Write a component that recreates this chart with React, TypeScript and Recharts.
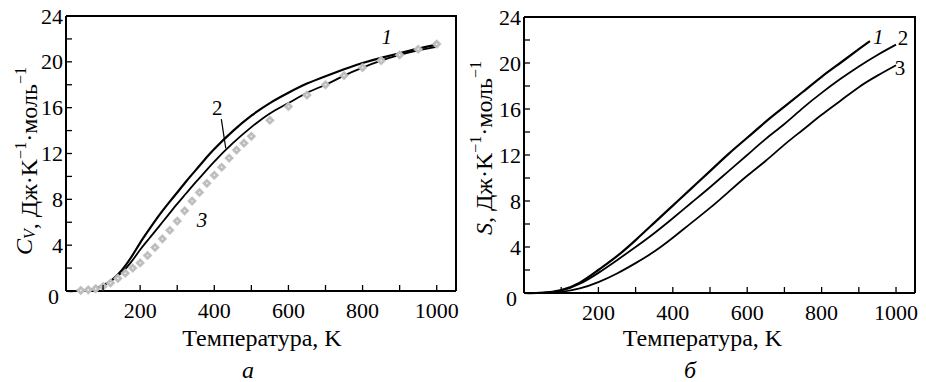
import React from 'react';
import { ComposedChart, Line, Scatter, XAxis, YAxis, ReferenceDot, ReferenceLine } from 'recharts';

// panel a: heat capacity
const cvTemps = [0, 25, 50, 75, 100, 125, 150, 175, 200, 225, 250, 275, 300, 325, 350, 375, 400, 450, 500, 550, 600, 650, 700, 750, 800, 850, 900, 950, 1000];
const cvCurve1 = [0, 0, 0.05, 0.2, 0.5, 1.0, 1.8, 2.9, 4.2, 5.4, 6.55, 7.6, 8.6, 9.6, 10.55, 11.5, 12.4, 13.95, 15.3, 16.4, 17.3, 18.1, 18.75, 19.35, 19.9, 20.35, 20.75, 21.15, 21.5];
const cvCurve2 = [0, 0, 0.05, 0.2, 0.5, 0.95, 1.6, 2.5, 3.6, 4.6, 5.6, 6.6, 7.6, 8.55, 9.5, 10.4, 11.3, 12.9, 14.3, 15.5, 16.4, 17.3, 18.0, 18.8, 19.5, 20.1, 20.6, 21.0, 21.3];
const cvPointTemps = [40, 60, 80, 100, 120, 140, 160, 180, 200, 220, 240, 260, 280, 300, 320, 340, 360, 380, 400, 420, 440, 460, 480, 500, 550, 600, 650, 700, 750, 800, 850, 900, 950, 1000];
const cvPoints3 = [0.05, 0.1, 0.2, 0.4, 0.7, 1.1, 1.55, 2.0, 2.45, 3.1, 3.8, 4.55, 5.3, 6.1, 7.0, 7.85, 8.6, 9.4, 10.1, 10.8, 11.6, 12.3, 12.9, 13.5, 14.9, 16.1, 17.1, 18.0, 18.8, 19.5, 20.1, 20.6, 21.1, 21.55];

// panel б: entropy
const sTemps = [0, 50, 100, 150, 200, 250, 300, 350, 400, 450, 500, 550, 600, 650, 700, 750, 800, 850, 900, 950, 1000];
const s1Temps = [0, 50, 100, 150, 200, 250, 300, 350, 400, 450, 500, 550, 600, 650, 700, 750, 800, 850, 900, 930];
const sCurve1 = [0, 0.02, 0.25, 0.9, 2.0, 3.2, 4.6, 6.1, 7.6, 9.1, 10.6, 12.1, 13.5, 14.9, 16.2, 17.5, 18.8, 20.0, 21.2, 21.9];
const sCurve2 = [0, 0.02, 0.2, 0.8, 1.75, 2.85, 4.0, 5.2, 6.5, 7.85, 9.2, 10.6, 12.0, 13.4, 14.7, 16.1, 17.4, 18.6, 19.7, 20.7, 21.6];
const sCurve3 = [0, 0, 0.1, 0.4, 0.95, 1.7, 2.6, 3.6, 4.8, 6.1, 7.4, 8.8, 10.2, 11.5, 12.9, 14.2, 15.5, 16.7, 17.9, 18.9, 19.8];

const xTicks = [100, 200, 300, 400, 500, 600, 700, 800, 900, 1000];
const yTicks = [0, 2, 4, 6, 8, 10, 12, 14, 16, 18, 20, 22, 24];

const zip = (xs: number[], ys: number[]) => xs.map((t, i) => ({ t, v: ys[i] }));

const FONT = '"Liberation Serif", "Times New Roman", serif';
const FS = 22;
const TITLE = 24;
const H = 382;
const X_AXIS_H = 30;

type Margin = { top: number; right: number; bottom: number; left: number };
type Layout = { width: number; margin: Margin; yAxisWidth: number; xMax: number };

const leftLayout: Layout = { width: 470, margin: { top: 16, right: 14, bottom: 61, left: 0 }, yAxisWidth: 66, xMax: 1052 };
const rightLayout: Layout = { width: 466, margin: { top: 17, right: 11, bottom: 59, left: 0 }, yAxisWidth: 64, xMax: 1051 };

const plotBox = (l: Layout) => {
  const x = l.margin.left + l.yAxisWidth;
  return {
    x,
    y: l.margin.top,
    w: l.width - x - l.margin.right,
    h: H - l.margin.top - l.margin.bottom - X_AXIS_H,
  };
};

const XTick = (p: any) => {
  const { x, y, payload } = p;
  const v = payload.value;
  return (
    <g>
      <line x1={x} x2={x} y1={y} y2={y - 6} stroke="#000" strokeWidth={1.3} />
      {v % 200 === 0 && (
        <text x={x} y={y + 19} textAnchor="middle" dominantBaseline="central" fontFamily={FONT} fontSize={FS} fill="#000">
          {v}
        </text>
      )}
    </g>
  );
};

const YTick = (p: any) => {
  const { x, y, payload } = p;
  const v = payload.value;
  return (
    <g>
      <line x1={x} x2={x + 6} y1={y} y2={y} stroke="#000" strokeWidth={1.3} />
      {v % 4 === 0 && (
        <text
          x={v === 0 ? x - 7 : x - 3}
          y={v === 0 ? y + 5 : y}
          textAnchor="end"
          dominantBaseline="central"
          fontFamily={FONT}
          fontSize={FS}
          fill="#000"
        >
          {v}
        </text>
      )}
    </g>
  );
};

const Diamond = (p: any) => {
  const { cx, cy } = p;
  const r = 4.6;
  return (
    <g>
      <polygon points={`${cx},${cy - r} ${cx + r},${cy} ${cx},${cy + r} ${cx - r},${cy}`} fill="#bdbdbd" stroke="#c8c8c8" strokeWidth={0.5} />
      <rect x={cx - 0.8} y={cy - 0.8} width={1.6} height={1.6} fill="#eeeeee" />
    </g>
  );
};

const tag = (text: string, italic: boolean) => (p: any) => (
  <text
    x={p.cx}
    y={p.cy}
    textAnchor="middle"
    dominantBaseline="central"
    fontFamily={FONT}
    fontSize={21}
    fontStyle={italic ? 'italic' : 'normal'}
    fill="#000"
  >
    {text}
  </text>
);

const yLabel = (symbol: React.ReactNode, cx: number, cy: number) => (
  <text
    transform={`translate(${cx},${cy}) rotate(-90)`}
    textAnchor="middle"
    dominantBaseline="central"
    fontFamily={FONT}
    fontSize={TITLE}
    fill="#000"
  >
    {symbol}
    <tspan>, Дж·K</tspan>
    <tspan fontSize={16} dy={-9}>−1</tspan>
    <tspan dy={9}>·моль</tspan>
    <tspan fontSize={16} dy={-9}>−1</tspan>
  </text>
);

const axisLine = { stroke: '#000', strokeWidth: 2 };

const Panel = ({ layout, children }: { layout: Layout; children: React.ReactNode }) => (
  <ComposedChart width={layout.width} height={H} margin={layout.margin}>
    <XAxis
      dataKey="t"
      type="number"
      domain={[0, layout.xMax]}
      ticks={xTicks}
      interval={0}
      tickSize={0}
      tickMargin={0}
      tick={<XTick />}
      axisLine={axisLine}
      allowDataOverflow
      height={X_AXIS_H}
    />
    <YAxis
      dataKey="v"
      type="number"
      domain={[0, 24]}
      ticks={yTicks}
      interval={0}
      tickSize={0}
      tickMargin={0}
      tick={<YTick />}
      axisLine={axisLine}
      width={layout.yAxisWidth}
    />
    {children}
  </ComposedChart>
);

// top and right edges of the plotting box
const Frame = ({ layout }: { layout: Layout }) => {
  const b = plotBox(layout);
  return (
    <g>
      <line x1={b.x} y1={b.y} x2={b.x + b.w + 1} y2={b.y} stroke="#000" strokeWidth={2} />
      <line x1={b.x + b.w} y1={b.y} x2={b.x + b.w} y2={b.y + b.h} stroke="#000" strokeWidth={2} />
    </g>
  );
};

export default function App() {
  const cv1 = zip(cvTemps, cvCurve1);
  const cv2 = zip(cvTemps, cvCurve2);
  const cv3 = zip(cvPointTemps, cvPoints3);
  const s1 = zip(s1Temps, sCurve1);
  const s2 = zip(sTemps, sCurve2);
  const s3 = zip(sTemps, sCurve3);

  return (
    <div style={{ position: 'absolute', left: 0, top: 0, width: 926, height: H, background: '#fff', fontFamily: FONT }}>
      <div style={{ position: 'absolute', left: 0, top: 0, width: 470, height: H }}>
        <Panel layout={leftLayout}>
          <Line data={cv1} dataKey="v" type="natural" stroke="#000" strokeWidth={2.2} dot={false} isAnimationActive={false} />
          <Line data={cv2} dataKey="v" type="natural" stroke="#000" strokeWidth={1.8} dot={false} isAnimationActive={false} />
          <Scatter data={cv3} dataKey="v" shape={<Diamond />} isAnimationActive={false} />
          <ReferenceDot x={865} y={22.2} r={0} shape={tag('1', true)} />
          <ReferenceDot x={408} y={16.0} r={0} shape={tag('2', false)} />
          <ReferenceDot x={367} y={6.2} r={0} shape={tag('3', true)} />
          <ReferenceLine segment={[{ x: 419, y: 15.0 }, { x: 431, y: 12.45 }]} stroke="#000" strokeWidth={1.2} />
        </Panel>
        <svg width={470} height={H} style={{ position: 'absolute', left: 0, top: 0, pointerEvents: 'none' }}>
          <Frame layout={leftLayout} />
          {yLabel(
            <>
              <tspan fontStyle="italic">C</tspan>
              <tspan fontStyle="italic" fontSize={16} dy={5}>V</tspan>
              <tspan dy={-5}></tspan>
            </>,
            24,
            161
          )}
          <text x={262} y={338} textAnchor="middle" dominantBaseline="central" fontFamily={FONT} fontSize={TITLE} fill="#000">
            Температура, K
          </text>
          <text x={248} y={370} textAnchor="middle" dominantBaseline="central" fontFamily={FONT} fontSize={TITLE} fontStyle="italic" fill="#000">
            а
          </text>
        </svg>
      </div>
      <div style={{ position: 'absolute', left: 460, top: 0, width: 466, height: H }}>
        <Panel layout={rightLayout}>
          <Line data={s1} dataKey="v" type="natural" stroke="#000" strokeWidth={2.2} dot={false} isAnimationActive={false} />
          <Line data={s2} dataKey="v" type="natural" stroke="#000" strokeWidth={1.8} dot={false} isAnimationActive={false} />
          <Line data={s3} dataKey="v" type="natural" stroke="#000" strokeWidth={1.8} dot={false} isAnimationActive={false} />
          <ReferenceDot x={952} y={22.25} r={0} shape={tag('1', true)} ifOverflow="visible" />
          <ReferenceDot x={1019} y={22.2} r={0} shape={tag('2', false)} ifOverflow="visible" />
          <ReferenceDot x={1011} y={19.55} r={0} shape={tag('3', false)} ifOverflow="visible" />
        </Panel>
        <svg width={466} height={H} style={{ position: 'absolute', left: 0, top: 0, pointerEvents: 'none' }}>
          <Frame layout={rightLayout} />
          {yLabel(<tspan fontStyle="italic">S</tspan>, 24, 148)}
          <text x={242.5} y={338} textAnchor="middle" dominantBaseline="central" fontFamily={FONT} fontSize={TITLE} fill="#000">
            Температура, K
          </text>
          <text x={230} y={370} textAnchor="middle" dominantBaseline="central" fontFamily={FONT} fontSize={TITLE} fontStyle="italic" fill="#000">
            б
          </text>
        </svg>
      </div>
    </div>
  );
}
